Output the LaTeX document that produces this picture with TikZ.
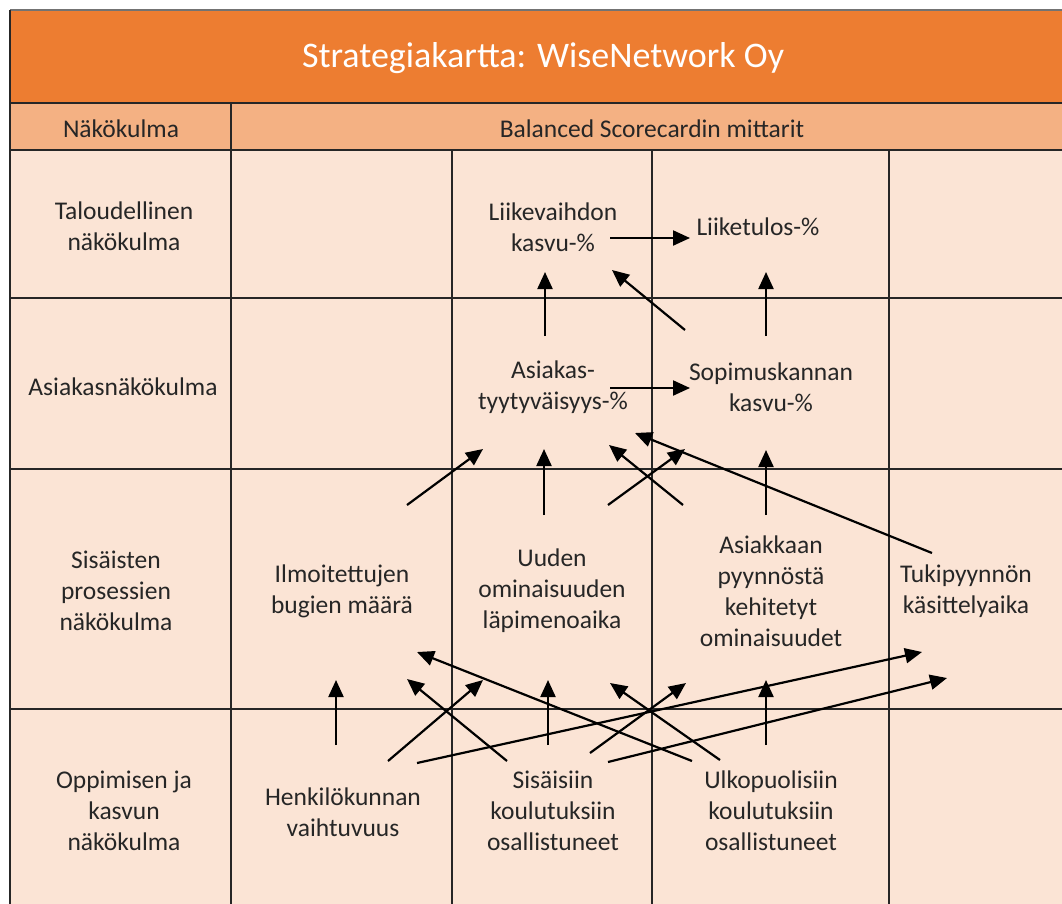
\documentclass[tikz,border=0pt]{standalone}
\usepackage{fontspec}
\setmainfont{Carlito}
\usetikzlibrary{arrows.meta}
\definecolor{titleor}{HTML}{ED7D31}
\definecolor{heador}{HTML}{F4B183}
\definecolor{bodyor}{HTML}{FBE4D5}
\definecolor{txtc}{HTML}{262626}
\tikzset{
  grid/.style={line width=2pt, draw=black!85},
  txt/.style={font=\fontsize{25.5}{31}\selectfont, align=center, text=txtc, inner sep=0pt},
  link/.style={line width=2.2pt, -{Triangle[length=17pt,width=15pt]}},
}
\begin{document}
\begin{tikzpicture}[x=1pt,y=-1pt]
\useasboundingbox (0,0) rectangle (1062,903);
\fill[white] (0,0) rectangle (1062,903);
\begin{scope}
\clip (0,0) rectangle (1062,903);
\fill[titleor] (10,10) rectangle (1080,103);
\fill[heador] (10,103) rectangle (1080,150);
\fill[bodyor] (10,150) rectangle (1080,920);
\draw[line width=2pt, draw=black!55] (10,10) -- (1080,10);
\draw[grid] (10,10) -- (10,920);
\foreach \y in {103,150,298,469,709} \draw[grid] (10,\y) -- (1080,\y);
\draw[grid] (231,103) -- (231,920);
\foreach \x in {452,652,889} \draw[grid] (\x,150) -- (\x,920);
\end{scope}

% texts
\node[txt, text=white, font=\fontsize{36}{40}\selectfont] (title) at (543,58) {Strategiakartta: WiseNetwork Oy};
\node[txt] (hdr1) at (121,129) {Näkökulma};
\node[txt] (hdr2) at (652,129) {Balanced Scorecardin mittarit};

\node[txt] (p1) at (124,226) {Taloudellinen\\näkökulma};
\node[txt] (p2) at (123,387) {Asiakasnäkökulma};
\node[txt] (p3) at (116,591) {Sisäisten\\prosessien\\näkökulma};
\node[txt] (p4) at (124,811) {Oppimisen ja\\kasvun\\näkökulma};

\node[txt] (lv) at (553,227) {Liikevaihdon\\kasvu-\%};
\node[txt] (lt) at (758,227) {Liiketulos-\%};
\node[txt] (at) at (553,387) {Asiakas-\\tyytyväisyys-\%};
\node[txt] (sk) at (771,387) {Sopimuskannan\\kasvu-\%};
\node[txt] (ib) at (342,591) {Ilmoitettujen\\bugien määrä};
\node[txt] (uo) at (552,591) {Uuden\\ominaisuuden\\läpimenoaika};
\node[txt] (ap) at (771,591) {Asiakkaan\\pyynnöstä\\kehitetyt\\ominaisuudet};
\node[txt] (tk) at (966,591) {Tukipyynnön\\käsittelyaika};
\node[txt] (hv) at (343,812) {Henkilökunnan\\vaihtuvuus};
\node[txt] (sko) at (553,811) {Sisäisiin\\koulutuksiin\\osallistuneet};
\node[txt] (uko) at (771,811) {Ulkopuolisiin\\koulutuksiin\\osallistuneet};

% arrow end points
\coordinate (a1s) at (610,238); \coordinate (a1e) at (690,238);
\coordinate (a2s) at (545,336); \coordinate (a2e) at (545,272);
\coordinate (a3s) at (685,330); \coordinate (a3e) at (612,270);
\coordinate (a4s) at (766,336); \coordinate (a4e) at (766,272);
\coordinate (a5s) at (610,388); \coordinate (a5e) at (690,388);
\coordinate (a6s) at (407,505); \coordinate (a6e) at (483,449);
\coordinate (a7s) at (544,515); \coordinate (a7e) at (544,449);
\coordinate (a8s) at (683,505); \coordinate (a8e) at (609,445);
\coordinate (a9s) at (608,505); \coordinate (a9e) at (685,449);
\coordinate (a10s) at (932,553); \coordinate (a10e) at (635,433);
\coordinate (a11s) at (766,515); \coordinate (a11e) at (766,450);

\coordinate (b1s) at (336,745); \coordinate (b1e) at (336,680);
\coordinate (b2s) at (388,761); \coordinate (b2e) at (483,680);
\coordinate (b3s) at (417,763); \coordinate (b3e) at (922,652);
\coordinate (b4s) at (507,761); \coordinate (b4e) at (407,679);
\coordinate (b5s) at (548,745); \coordinate (b5e) at (548,680);
\coordinate (b6s) at (590,753); \coordinate (b6e) at (686,683);
\coordinate (b7s) at (608,762); \coordinate (b7e) at (947,678);
\coordinate (b8s) at (720,760); \coordinate (b8e) at (610,683);
\coordinate (b9s) at (692,761); \coordinate (b9e) at (417,652);
\coordinate (b10s) at (766,745); \coordinate (b10e) at (766,680);

\foreach \n in {a1,a2,a3,a4,a5,a6,a7,a8,a9,a10,a11,b1,b2,b3,b4,b5,b6,b7,b8,b9,b10}
  \draw[link] (\n s) -- (\n e);
\end{tikzpicture}
\end{document}
